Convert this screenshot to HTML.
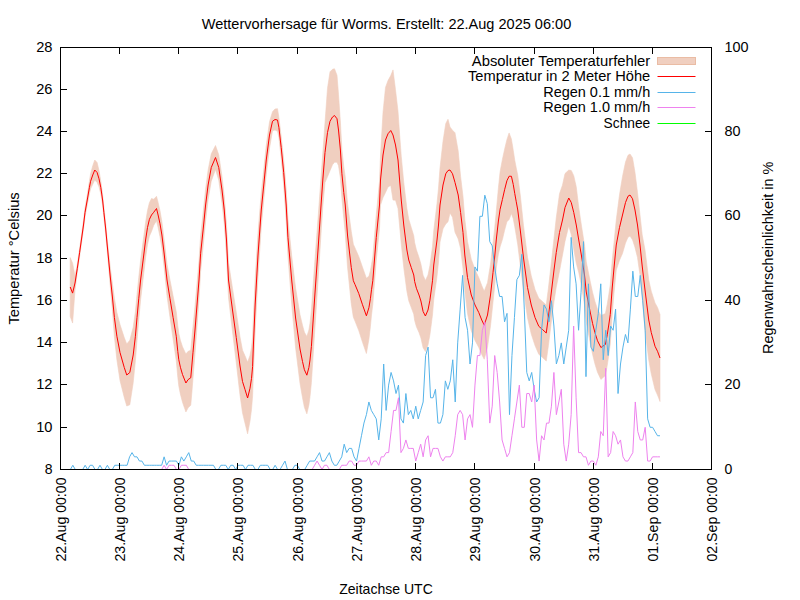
<!DOCTYPE html>
<html lang="de"><head><meta charset="utf-8"><title>Wettervorhersage für Worms</title>
<style>html,body{margin:0;padding:0;background:#fff;}body{width:800px;height:600px;overflow:hidden;font-family:"Liberation Sans",sans-serif;}svg{display:block;}text{font-family:"Liberation Sans",sans-serif;fill:#000;}</style></head><body>
<svg width="800" height="600" viewBox="0 0 800 600">
<rect x="0" y="0" width="800" height="600" fill="#ffffff"/>
<path d="M70.20 257.60L72.60 263.15L75.00 275.84L77.25 264.75L79.65 248.25L83.50 220.56L85.00 207.88L87.25 195.09L89.40 181.10L90.60 173.65L92.75 165.73L94.75 160.00L97.10 162.50L99.00 170.55L100.80 181.03L102.60 194.73L103.90 207.32L105.60 222.48L107.20 239.16L110.20 266.70L112.50 284.50L114.40 298.30L116.90 312.59L120.00 324.50L124.25 337.61L126.75 344.00L129.80 340.22L133.20 327.29L135.40 311.83L137.00 294.62L138.75 277.55L140.60 260.26L143.75 236.61L145.60 222.40L147.50 210.56L149.40 202.67L151.50 198.50L153.75 199.26L156.50 196.30L158.10 202.46L160.00 210.81L161.90 221.66L164.20 240.17L167.00 264.15L170.00 280.13L173.10 296.02L176.25 311.87L177.80 325.68L178.80 333.44L180.40 340.32L182.50 346.76L185.90 354.05L188.10 351.35L190.75 350.35L191.90 337.97L193.00 326.38L195.00 306.38L197.00 283.62L199.00 260.88L200.60 235.98L203.10 213.20L205.60 189.17L208.10 170.14L211.25 153.85L215.50 145.50L218.75 154.82L222.00 176.63L224.25 196.16L226.50 224.50L228.50 262.50L232.50 288.50L236.25 312.25L240.00 337.00L242.50 350.17L245.00 355.83L247.60 362.13L250.00 355.43L251.50 347.59L252.60 336.99L253.20 321.29L255.20 278.18L258.00 233.22L261.25 192.92L263.75 169.66L266.25 145.59L269.50 121.81L272.50 111.75L275.00 109.00L277.50 108.68L278.90 117.45L281.20 136.61L283.70 159.56L286.20 189.20L287.95 219.08L291.70 255.95L295.60 288.10L300.00 314.73L302.50 325.34L304.40 332.15L306.85 336.54L308.90 330.01L310.00 323.14L311.40 310.44L314.50 265.71L318.00 219.00L321.20 175.20L322.80 153.33L325.00 122.50L327.50 88.26L330.00 71.81L332.50 69.29L334.50 68.74L337.00 75.31L338.50 94.36L340.40 122.00L341.90 149.50L343.75 166.71L345.25 176.92L347.50 203.17L351.25 231.35L353.35 244.34L355.00 247.88L358.75 256.42L362.50 267.21L366.40 278.22L368.90 276.20L370.40 270.85L371.50 264.53L372.80 256.99L376.25 214.79L379.50 181.56L380.50 154.96L383.00 112.38L385.50 87.40L388.00 80.55L390.75 75.62L393.00 69.92L395.50 89.76L398.00 111.37L399.60 134.08L401.25 156.21L403.75 182.40L406.90 208.60L408.75 219.19L411.25 227.48L413.75 235.77L414.65 242.56L416.40 249.86L419.00 257.44L420.90 264.04L423.10 275.24L425.40 280.47L428.00 275.00L429.90 265.63L431.00 257.60L432.50 246.65L433.75 230.53L437.00 203.50L438.50 188.00L440.00 168.00L443.00 141.22L445.75 123.59L448.00 119.25L450.00 127.08L452.50 130.19L455.00 132.76L458.20 151.08L460.60 176.50L463.00 196.50L464.80 219.00L467.50 241.50L471.25 259.16L475.00 269.62L478.75 277.62L481.75 285.60L484.20 291.19L487.50 282.68L490.50 264.23L493.00 242.91L494.60 229.06L496.25 211.73L498.40 187.90L500.10 171.77L502.40 159.40L504.60 149.21L506.90 139.65L509.10 132.95L511.40 139.05L513.25 150.31L514.75 160.28L516.25 167.93L517.75 175.16L520.50 197.12L523.50 225.71L527.50 257.25L531.25 275.88L535.00 289.50L538.75 298.25L542.50 301.50L546.25 305.00L548.40 288.36L551.00 265.59L554.00 238.57L556.25 217.86L559.50 193.78L562.50 185.04L565.00 173.58L568.75 170.10L571.25 170.48L573.75 175.65L576.25 186.84L578.75 207.40L581.50 226.00L584.50 245.00L586.25 261.84L590.40 282.31L592.60 292.53L594.90 301.24L597.50 309.16L600.90 315.53L605.40 313.51L607.25 304.16L608.75 294.73L610.25 284.80L612.20 260.64L614.00 242.80L616.25 220.00L619.50 194.83L622.50 176.54L625.50 162.03L628.00 155.25L630.00 154.00L632.50 157.75L635.00 172.50L637.50 192.50L640.00 215.00L642.20 234.83L645.00 250.00L648.75 280.00L651.25 291.17L655.00 302.92L657.50 307.42L660.00 314.50L660.00 401.50L657.50 395.08L655.00 389.58L651.25 373.83L648.75 360.00L645.00 330.00L642.20 297.17L640.00 275.00L637.50 257.50L635.00 247.50L632.50 239.75L630.00 236.00L628.00 237.25L625.50 242.97L622.50 253.46L619.50 260.17L616.25 270.00L614.00 293.20L612.20 315.36L610.25 344.20L608.75 355.27L607.25 365.34L605.40 375.49L600.90 379.47L597.50 372.34L594.90 363.76L592.60 354.47L590.40 343.69L586.25 322.16L584.50 305.00L581.50 286.00L578.75 272.60L576.25 263.16L573.75 249.35L571.25 234.52L568.75 225.90L565.00 241.42L562.50 254.96L559.50 271.22L556.25 287.14L554.00 301.43L551.00 324.41L548.40 345.64L546.25 361.00L542.50 357.50L538.75 354.25L535.00 345.50L531.25 334.12L527.50 317.75L523.50 290.29L520.50 266.88L517.75 244.84L516.25 235.57L514.75 226.72L513.25 218.69L511.40 213.45L509.10 219.55L506.90 221.85L504.60 230.29L502.40 239.60L500.10 246.73L498.40 254.10L496.25 268.27L494.60 286.94L493.00 302.09L490.50 325.77L487.50 347.32L484.20 359.21L481.75 354.40L478.75 347.38L475.00 340.38L471.25 330.84L467.50 313.50L464.80 291.00L463.00 268.50L460.60 248.50L458.20 238.92L455.00 232.24L452.50 217.31L450.00 212.92L448.00 221.75L445.75 223.91L443.00 228.78L440.00 242.00L438.50 262.00L437.00 276.50L433.75 299.47L432.50 314.85L431.00 326.40L429.90 334.87L428.00 345.00L425.40 351.53L423.10 347.76L420.90 337.96L419.00 332.56L416.40 326.64L414.65 320.44L413.75 314.23L411.25 307.52L408.75 300.81L406.90 291.40L403.75 267.60L401.25 243.79L399.60 225.92L398.00 208.62L395.50 200.24L393.00 200.08L390.75 185.38L388.00 186.95L385.50 192.60L383.00 197.62L380.50 205.04L379.50 228.44L376.25 260.21L372.80 304.51L371.50 314.97L370.40 326.65L368.90 339.30L366.40 353.48L362.50 342.29L358.75 330.58L355.00 321.12L353.35 317.16L351.25 303.65L347.50 266.83L345.25 233.08L343.75 218.29L341.90 198.00L340.40 178.00L338.50 165.64L337.00 162.19L334.50 162.26L332.50 164.71L330.00 170.69L327.50 176.74L325.00 182.50L322.80 206.67L321.20 230.80L318.00 281.00L314.50 334.29L311.40 382.56L310.00 396.86L308.90 404.99L306.85 413.86L304.40 407.35L302.50 397.66L300.00 383.27L295.60 347.90L291.70 304.05L287.95 255.92L286.20 220.80L283.70 185.44L281.20 158.39L278.90 137.55L277.50 131.32L275.00 130.00L272.50 130.75L269.50 148.19L266.25 174.41L263.75 200.34L261.25 227.08L258.00 276.78L255.20 329.82L253.20 378.71L252.60 396.01L251.50 409.41L250.00 421.07L247.60 433.87L245.00 423.17L242.50 412.83L240.00 395.00L236.25 362.75L232.50 331.50L228.50 297.50L226.50 255.50L224.25 223.84L222.00 203.37L218.75 180.18L215.50 169.50L211.25 181.15L208.10 199.86L205.60 220.83L203.10 246.80L200.60 271.52L199.00 299.12L197.00 326.38L195.00 353.62L193.00 378.12L191.90 392.03L190.75 405.15L188.10 407.85L185.90 411.95L182.50 402.24L180.40 394.18L178.80 386.06L177.80 377.32L176.25 360.63L173.10 338.98L170.00 317.37L167.00 295.85L164.20 267.83L161.90 248.34L160.00 236.69L158.10 227.54L156.50 220.70L153.75 225.24L151.50 231.50L149.40 236.13L147.50 244.44L145.60 257.60L143.75 273.39L140.60 299.74L138.75 319.95L137.00 340.38L135.40 360.67L133.20 382.71L129.80 404.78L126.75 406.00L124.25 397.39L120.00 380.50L116.90 359.91L114.40 336.70L112.50 311.50L110.20 285.30L107.20 250.84L105.60 233.52L103.90 217.68L102.60 205.27L100.80 193.97L99.00 186.95L97.10 182.50L94.75 180.00L92.75 184.27L90.60 188.85L89.40 193.90L87.25 204.91L85.00 217.12L83.50 229.44L79.65 256.25L77.25 272.75L75.00 290.16L72.60 323.05L70.20 316.40Z" fill="#f0cfc0" stroke="#f0cfc0" stroke-width="0.6" stroke-linejoin="round"/>
<path d="M70.20 287.00L72.60 293.10L75.00 283.00L77.25 268.75L79.65 252.25L83.50 225.00L85.00 212.50L87.25 200.00L89.40 187.50L90.60 181.25L92.75 175.00L94.75 170.00L97.10 172.50L99.00 178.75L100.80 187.50L102.60 200.00L103.90 212.50L105.60 228.00L107.20 245.00L110.20 276.00L112.50 298.00L114.40 317.50L116.90 336.25L120.00 352.50L124.25 367.50L126.75 375.00L129.80 372.50L133.20 355.00L135.40 336.25L137.00 317.50L138.75 298.75L140.60 280.00L143.75 255.00L145.60 240.00L147.50 227.50L149.40 219.40L151.50 215.00L153.75 212.25L156.50 208.50L158.10 215.00L160.00 223.75L161.90 235.00L164.20 254.00L167.00 280.00L170.00 298.75L173.10 317.50L176.25 336.25L177.80 351.50L178.80 359.75L180.40 367.25L182.50 374.50L185.90 383.00L188.10 379.60L190.75 377.75L191.90 365.00L193.00 352.25L195.00 330.00L197.00 305.00L199.00 280.00L200.60 253.75L203.10 230.00L205.60 205.00L208.10 185.00L211.25 167.50L215.50 157.50L218.75 167.50L222.00 190.00L224.25 210.00L226.50 240.00L228.50 280.00L232.50 310.00L236.25 337.50L240.00 366.00L242.50 381.50L245.00 389.50L247.60 398.00L250.00 388.25L251.50 378.50L252.60 366.50L253.20 350.00L255.20 304.00L258.00 255.00L261.25 210.00L263.75 185.00L266.25 160.00L269.50 135.00L272.50 121.25L275.00 119.50L277.50 120.00L278.90 127.50L281.20 147.50L283.70 172.50L286.20 205.00L287.95 237.50L291.70 280.00L295.60 318.00L300.00 349.00L302.50 361.50L304.40 369.75L306.85 375.20L308.90 367.50L310.00 360.00L311.40 346.50L314.50 300.00L318.00 250.00L321.20 203.00L322.80 180.00L325.00 152.50L327.50 132.50L330.00 121.25L332.50 117.00L334.50 115.50L337.00 118.75L338.50 130.00L340.40 150.00L341.90 173.75L343.75 192.50L345.25 205.00L347.50 235.00L351.25 267.50L353.35 280.75L355.00 284.50L358.75 293.50L362.50 304.75L366.40 315.85L368.90 307.75L370.40 298.75L371.50 289.75L372.80 280.75L376.25 237.50L379.50 205.00L380.50 180.00L383.00 155.00L385.50 140.00L388.00 133.75L390.75 130.50L393.00 135.00L395.50 145.00L398.00 160.00L399.60 180.00L401.25 200.00L403.75 225.00L406.90 250.00L408.75 260.00L411.25 267.50L413.75 275.00L414.65 281.50L416.40 288.25L419.00 295.00L420.90 301.00L423.10 311.50L425.40 316.00L428.00 310.00L429.90 300.25L431.00 292.00L432.50 280.75L433.75 265.00L437.00 240.00L438.50 225.00L440.00 205.00L443.00 185.00L445.75 173.75L448.00 170.50L450.00 170.00L452.50 173.75L455.00 182.50L458.20 195.00L460.60 212.50L463.00 232.50L464.80 255.00L467.50 277.50L471.25 295.00L475.00 305.00L478.75 312.50L481.75 320.00L484.20 325.20L487.50 315.00L490.50 295.00L493.00 272.50L494.60 258.00L496.25 240.00L498.40 221.00L500.10 209.25L502.40 199.50L504.60 189.75L506.90 180.75L509.10 176.25L511.40 176.25L513.25 184.50L514.75 193.50L516.25 201.75L517.75 210.00L520.50 232.00L523.50 258.00L527.50 287.50L531.25 305.00L535.00 317.50L538.75 326.25L542.50 329.50L546.25 333.00L548.40 317.00L551.00 295.00L554.00 270.00L556.25 252.50L559.50 232.50L562.50 220.00L565.00 207.50L568.75 198.00L571.25 202.50L573.75 212.50L576.25 225.00L578.75 240.00L581.50 256.00L584.50 275.00L586.25 292.00L590.40 313.00L592.60 323.50L594.90 332.50L597.50 340.75L600.90 347.50L605.40 344.50L607.25 334.75L608.75 325.00L610.25 314.50L612.20 288.00L614.00 268.00L616.25 245.00L619.50 227.50L622.50 215.00L625.50 202.50L628.00 196.25L630.00 195.00L632.50 198.75L635.00 210.00L637.50 225.00L640.00 245.00L642.20 266.00L645.00 290.00L648.75 320.00L651.25 332.50L655.00 346.25L657.50 351.25L660.00 358.00" fill="none" stroke="#ff0000" stroke-width="1" stroke-linejoin="miter" stroke-miterlimit="4"/>
<path d="M70.37 469.50L72.84 465.28L75.30 469.50L77.77 469.50L80.24 469.50L82.70 469.50L85.17 465.28L87.64 469.50L90.10 465.28L92.57 465.28L95.04 469.50L97.50 469.50L99.97 465.28L102.44 469.50L104.91 469.50L107.37 465.28L109.84 469.50L112.31 469.50L114.77 465.28L117.24 465.28L119.71 465.28L122.18 465.28L124.64 465.28L127.11 465.28L129.58 456.84L132.04 452.62L134.51 456.84L136.98 456.84L139.44 461.06L141.91 461.06L144.38 465.28L146.84 465.28L149.31 465.28L151.78 465.28L154.25 465.28L156.71 465.28L159.18 465.28L161.65 465.28L164.11 456.84L166.58 465.28L169.05 461.06L171.51 461.06L173.98 461.06L176.45 461.06L178.92 465.28L181.38 456.84L183.85 461.06L186.32 456.84L188.78 452.62L191.25 461.06L193.72 461.06L196.19 465.28L198.65 465.28L201.12 465.28L203.59 465.28L206.05 465.28L208.52 465.28L210.99 465.28L213.45 465.28L215.92 469.50L218.39 469.50L220.86 465.28L223.32 465.28L225.79 465.28L228.26 469.50L230.72 465.28L233.19 465.28L235.66 469.50L238.12 465.28L240.59 465.28L243.06 465.28L245.53 469.50L247.99 465.28L250.46 465.28L252.93 465.28L255.39 469.50L257.86 469.50L260.33 465.28L262.79 465.28L265.26 465.28L267.73 465.28L270.19 469.50L272.66 469.50L275.13 465.28L277.60 469.50L280.06 469.50L282.53 465.28L285.00 461.06L287.46 469.50L289.93 469.50L292.40 469.50L294.87 465.28L297.33 465.28L299.80 469.50L302.27 469.50L304.73 469.50L307.20 465.28L309.67 461.06L312.13 461.06L314.60 461.06L317.07 456.84L319.54 452.62L322.00 461.06L324.47 461.06L326.94 456.84L329.40 452.62L331.87 461.06L334.34 465.28L336.80 465.28L339.27 461.06L341.74 456.84L344.20 444.18L346.67 452.62L349.14 448.40L351.61 448.40L354.07 456.84L356.54 461.06L359.01 448.40L361.47 435.74L363.94 423.08L366.41 414.64L368.88 401.98L371.34 410.42L373.81 414.64L376.28 418.86L378.74 439.96L381.21 418.86L383.68 364.00L386.14 410.42L388.61 385.10L391.08 372.44L393.55 380.88L396.01 393.54L398.48 385.10L400.95 418.86L403.41 423.08L405.88 393.54L408.35 414.64L410.81 410.42L413.28 418.86L415.75 406.20L418.22 418.86L420.68 410.42L423.15 401.98L425.62 355.56L428.08 347.12L430.55 397.76L433.02 397.76L435.48 389.32L437.95 423.08L440.42 423.08L442.88 414.64L445.35 380.88L447.82 389.32L450.29 380.88L452.75 359.78L455.22 401.98L457.69 342.90L460.15 309.14L462.62 275.38L465.09 317.58L467.56 330.24L470.02 364.00L472.49 342.90L474.96 266.94L477.42 271.16L479.89 216.30L482.36 216.30L484.82 195.20L487.29 203.64L489.76 241.62L492.23 245.84L494.69 266.94L497.16 283.82L499.63 296.48L502.09 296.48L504.56 321.80L507.03 313.36L509.49 414.64L511.96 355.56L514.43 317.58L516.89 279.60L519.36 275.38L521.83 254.28L524.30 309.14L526.76 372.44L529.23 380.88L531.70 372.44L534.16 389.32L536.63 401.98L539.10 397.76L541.57 330.24L544.03 304.92L546.50 309.14L548.97 321.80L551.43 300.70L553.90 326.02L556.37 364.00L558.83 355.56L561.30 342.90L563.77 364.00L566.24 347.12L568.70 330.24L571.17 237.40L573.64 266.94L576.10 283.82L578.57 330.24L581.04 292.26L583.50 241.62L585.97 376.66L588.44 283.82L590.90 347.12L593.37 351.34L595.84 330.24L598.31 313.36L600.77 283.82L603.24 359.78L605.71 330.24L608.17 355.56L610.64 326.02L613.11 330.24L615.58 309.14L618.04 393.54L620.51 364.00L622.98 347.12L625.44 334.46L627.91 342.90L630.38 309.14L632.84 271.16L635.31 296.48L637.78 296.48L640.25 275.38L642.71 300.70L645.18 330.24L647.65 418.86L650.11 427.30L652.58 427.30L655.05 431.52L657.51 435.74L659.98 435.74" fill="none" stroke="#56b4e9" stroke-width="1" stroke-linejoin="miter" stroke-miterlimit="4"/>
<path d="M70.37 469.50L72.84 469.50L75.30 469.50L77.77 469.50L80.24 469.50L82.70 469.50L85.17 469.50L87.64 469.50L90.10 469.50L92.57 469.50L95.04 469.50L97.50 469.50L99.97 469.50L102.44 469.50L104.91 469.50L107.37 469.50L109.84 469.50L112.31 469.50L114.77 469.50L117.24 469.50L119.71 469.50L122.18 469.50L124.64 469.50L127.11 469.50L129.58 469.50L132.04 469.50L134.51 469.50L136.98 469.50L139.44 469.50L141.91 469.50L144.38 469.50L146.84 469.50L149.31 469.50L151.78 469.50L154.25 469.50L156.71 469.50L159.18 469.50L161.65 469.50L164.11 465.28L166.58 469.50L169.05 465.28L171.51 465.28L173.98 465.28L176.45 469.50L178.92 469.50L181.38 465.28L183.85 465.28L186.32 465.28L188.78 469.50L191.25 469.50L193.72 469.50L196.19 469.50L198.65 469.50L201.12 469.50L203.59 469.50L206.05 469.50L208.52 469.50L210.99 469.50L213.45 469.50L215.92 469.50L218.39 469.50L220.86 469.50L223.32 469.50L225.79 469.50L228.26 469.50L230.72 469.50L233.19 469.50L235.66 469.50L238.12 469.50L240.59 469.50L243.06 469.50L245.53 469.50L247.99 469.50L250.46 469.50L252.93 469.50L255.39 469.50L257.86 469.50L260.33 469.50L262.79 469.50L265.26 469.50L267.73 469.50L270.19 469.50L272.66 469.50L275.13 469.50L277.60 469.50L280.06 469.50L282.53 469.50L285.00 469.50L287.46 469.50L289.93 469.50L292.40 469.50L294.87 469.50L297.33 469.50L299.80 469.50L302.27 469.50L304.73 469.50L307.20 469.50L309.67 469.50L312.13 469.50L314.60 465.28L317.07 461.06L319.54 465.28L322.00 469.50L324.47 465.28L326.94 465.28L329.40 469.50L331.87 469.50L334.34 469.50L336.80 469.50L339.27 469.50L341.74 465.28L344.20 465.28L346.67 465.28L349.14 461.06L351.61 461.06L354.07 465.28L356.54 465.28L359.01 461.06L361.47 461.06L363.94 461.06L366.41 461.06L368.88 456.84L371.34 465.28L373.81 461.06L376.28 461.06L378.74 465.28L381.21 456.84L383.68 456.84L386.14 452.62L388.61 452.62L391.08 431.52L393.55 410.42L396.01 410.42L398.48 397.76L400.95 452.62L403.41 448.40L405.88 439.96L408.35 448.40L410.81 448.40L413.28 448.40L415.75 461.06L418.22 452.62L420.68 444.18L423.15 456.84L425.62 439.96L428.08 435.74L430.55 456.84L433.02 448.40L435.48 448.40L437.95 448.40L440.42 456.84L442.88 461.06L445.35 456.84L447.82 456.84L450.29 456.84L452.75 452.62L455.22 435.74L457.69 414.64L460.15 410.42L462.62 414.64L465.09 439.96L467.56 418.86L470.02 414.64L472.49 427.30L474.96 385.10L477.42 355.56L479.89 355.56L482.36 330.24L484.82 321.80L487.29 359.78L489.76 423.08L492.23 406.20L494.69 355.56L497.16 372.44L499.63 401.98L502.09 439.96L504.56 448.40L507.03 456.84L509.49 452.62L511.96 435.74L514.43 418.86L516.89 401.98L519.36 385.10L521.83 427.30L524.30 427.30L526.76 393.54L529.23 393.54L531.70 401.98L534.16 385.10L536.63 439.96L539.10 461.06L541.57 435.74L544.03 439.96L546.50 423.08L548.97 423.08L551.43 406.20L553.90 372.44L556.37 414.64L558.83 401.98L561.30 389.32L563.77 444.18L566.24 461.06L568.70 444.18L571.17 414.64L573.64 326.02L576.10 397.76L578.57 452.62L581.04 452.62L583.50 456.84L585.97 456.84L588.44 465.28L590.90 461.06L593.37 461.06L595.84 465.28L598.31 456.84L600.77 431.52L603.24 435.74L605.71 368.22L608.17 456.84L610.64 452.62L613.11 431.52L615.58 435.74L618.04 444.18L620.51 439.96L622.98 456.84L625.44 461.06L627.91 461.06L630.38 456.84L632.84 452.62L635.31 401.98L637.78 431.52L640.25 439.96L642.71 439.96L645.18 427.30L647.65 461.06L650.11 461.06L652.58 456.84L655.05 456.84L657.51 456.84L659.98 456.84" fill="none" stroke="#ee82ee" stroke-width="1" stroke-linejoin="miter" stroke-miterlimit="4"/>
<g stroke="#000" stroke-width="1" fill="none" shape-rendering="crispEdges">
<rect x="60.5" y="47.5" width="651.0" height="422.0"/>
<path d="M60.5 469.5V463.0M60.5 47.5V54.0"/>
<path d="M119.5 469.5V463.0M119.5 47.5V54.0"/>
<path d="M178.5 469.5V463.0M178.5 47.5V54.0"/>
<path d="M237.5 469.5V463.0M237.5 47.5V54.0"/>
<path d="M297.5 469.5V463.0M297.5 47.5V54.0"/>
<path d="M356.5 469.5V463.0M356.5 47.5V54.0"/>
<path d="M415.5 469.5V463.0M415.5 47.5V54.0"/>
<path d="M474.5 469.5V463.0M474.5 47.5V54.0"/>
<path d="M534.5 469.5V463.0M534.5 47.5V54.0"/>
<path d="M593.5 469.5V463.0M593.5 47.5V54.0"/>
<path d="M652.5 469.5V463.0M652.5 47.5V54.0"/>
<path d="M711.5 469.5V463.0M711.5 47.5V54.0"/>
<path d="M60.5 469.5H67.0"/>
<path d="M60.5 427.5H67.0"/>
<path d="M60.5 384.5H67.0"/>
<path d="M60.5 342.5H67.0"/>
<path d="M60.5 300.5H67.0"/>
<path d="M60.5 258.5H67.0"/>
<path d="M60.5 215.5H67.0"/>
<path d="M60.5 173.5H67.0"/>
<path d="M60.5 131.5H67.0"/>
<path d="M60.5 89.5H67.0"/>
<path d="M60.5 47.5H67.0"/>
<path d="M711.5 469.5H705.0"/>
<path d="M711.5 384.5H705.0"/>
<path d="M711.5 300.5H705.0"/>
<path d="M711.5 215.5H705.0"/>
<path d="M711.5 131.5H705.0"/>
<path d="M711.5 47.5H705.0"/>
</g>
<g>
<text x="386.5" y="29" text-anchor="middle" font-size="14.2" textLength="369.5" lengthAdjust="spacingAndGlyphs">Wettervorhersage für Worms. Erstellt: 22.Aug 2025 06:00</text>
<text x="386" y="593.5" text-anchor="middle" font-size="14.2" textLength="93.6" lengthAdjust="spacingAndGlyphs">Zeitachse UTC</text>
<text x="52.5" y="474.1" text-anchor="end" font-size="14.2" textLength="7.8" lengthAdjust="spacingAndGlyphs">8</text>
<text x="52.5" y="432.1" text-anchor="end" font-size="14.2" textLength="16.3" lengthAdjust="spacingAndGlyphs">10</text>
<text x="52.5" y="389.1" text-anchor="end" font-size="14.2" textLength="16.3" lengthAdjust="spacingAndGlyphs">12</text>
<text x="52.5" y="347.1" text-anchor="end" font-size="14.2" textLength="16.3" lengthAdjust="spacingAndGlyphs">14</text>
<text x="52.5" y="305.1" text-anchor="end" font-size="14.2" textLength="16.3" lengthAdjust="spacingAndGlyphs">16</text>
<text x="52.5" y="263.1" text-anchor="end" font-size="14.2" textLength="16.3" lengthAdjust="spacingAndGlyphs">18</text>
<text x="52.5" y="220.1" text-anchor="end" font-size="14.2" textLength="16.3" lengthAdjust="spacingAndGlyphs">20</text>
<text x="52.5" y="178.1" text-anchor="end" font-size="14.2" textLength="16.3" lengthAdjust="spacingAndGlyphs">22</text>
<text x="52.5" y="136.1" text-anchor="end" font-size="14.2" textLength="16.3" lengthAdjust="spacingAndGlyphs">24</text>
<text x="52.5" y="94.1" text-anchor="end" font-size="14.2" textLength="16.3" lengthAdjust="spacingAndGlyphs">26</text>
<text x="52.5" y="52.1" text-anchor="end" font-size="14.2" textLength="16.3" lengthAdjust="spacingAndGlyphs">28</text>
<text x="724.4" y="474.1" text-anchor="start" font-size="14.2" textLength="7.8" lengthAdjust="spacingAndGlyphs">0</text>
<text x="724.4" y="389.1" text-anchor="start" font-size="14.2" textLength="16.0" lengthAdjust="spacingAndGlyphs">20</text>
<text x="724.4" y="305.1" text-anchor="start" font-size="14.2" textLength="16.0" lengthAdjust="spacingAndGlyphs">40</text>
<text x="724.4" y="220.1" text-anchor="start" font-size="14.2" textLength="16.0" lengthAdjust="spacingAndGlyphs">60</text>
<text x="724.4" y="136.1" text-anchor="start" font-size="14.2" textLength="16.0" lengthAdjust="spacingAndGlyphs">80</text>
<text x="724.4" y="52.1" text-anchor="start" font-size="14.2" textLength="24.0" lengthAdjust="spacingAndGlyphs">100</text>
<text x="65.5" y="561.5" text-anchor="start" font-size="14.2" textLength="84" lengthAdjust="spacingAndGlyphs" transform="rotate(-90 65.5 561.5)">22.Aug 00:00</text>
<text x="124.5" y="561.5" text-anchor="start" font-size="14.2" textLength="84" lengthAdjust="spacingAndGlyphs" transform="rotate(-90 124.5 561.5)">23.Aug 00:00</text>
<text x="183.5" y="561.5" text-anchor="start" font-size="14.2" textLength="84" lengthAdjust="spacingAndGlyphs" transform="rotate(-90 183.5 561.5)">24.Aug 00:00</text>
<text x="242.5" y="561.5" text-anchor="start" font-size="14.2" textLength="84" lengthAdjust="spacingAndGlyphs" transform="rotate(-90 242.5 561.5)">25.Aug 00:00</text>
<text x="302.5" y="561.5" text-anchor="start" font-size="14.2" textLength="84" lengthAdjust="spacingAndGlyphs" transform="rotate(-90 302.5 561.5)">26.Aug 00:00</text>
<text x="361.5" y="561.5" text-anchor="start" font-size="14.2" textLength="84" lengthAdjust="spacingAndGlyphs" transform="rotate(-90 361.5 561.5)">27.Aug 00:00</text>
<text x="420.5" y="561.5" text-anchor="start" font-size="14.2" textLength="84" lengthAdjust="spacingAndGlyphs" transform="rotate(-90 420.5 561.5)">28.Aug 00:00</text>
<text x="479.5" y="561.5" text-anchor="start" font-size="14.2" textLength="84" lengthAdjust="spacingAndGlyphs" transform="rotate(-90 479.5 561.5)">29.Aug 00:00</text>
<text x="539.5" y="561.5" text-anchor="start" font-size="14.2" textLength="84" lengthAdjust="spacingAndGlyphs" transform="rotate(-90 539.5 561.5)">30.Aug 00:00</text>
<text x="598.5" y="561.5" text-anchor="start" font-size="14.2" textLength="84" lengthAdjust="spacingAndGlyphs" transform="rotate(-90 598.5 561.5)">31.Aug 00:00</text>
<text x="657.5" y="561.5" text-anchor="start" font-size="14.2" textLength="84" lengthAdjust="spacingAndGlyphs" transform="rotate(-90 657.5 561.5)">01.Sep 00:00</text>
<text x="716.5" y="561.5" text-anchor="start" font-size="14.2" textLength="84" lengthAdjust="spacingAndGlyphs" transform="rotate(-90 716.5 561.5)">02.Sep 00:00</text>
<text x="19.1" y="324.6" text-anchor="start" font-size="14.2" textLength="132.3" lengthAdjust="spacingAndGlyphs" transform="rotate(-90 19.1 324.6)">Temperatur °Celsius</text>
<text x="773.0" y="354.0" text-anchor="start" font-size="14.2" textLength="192.5" lengthAdjust="spacingAndGlyphs" transform="rotate(-90 773.0 354.0)">Regenwahrscheinlichkeit in %</text>
<text x="650.2" y="65.8" text-anchor="end" font-size="14.2" textLength="178.4" lengthAdjust="spacingAndGlyphs">Absoluter Temperaturfehler</text>
<text x="650.2" y="81.35" text-anchor="end" font-size="14.2" textLength="182.2" lengthAdjust="spacingAndGlyphs">Temperatur in 2 Meter Höhe</text>
<text x="650.2" y="96.9" text-anchor="end" font-size="14.2" textLength="107" lengthAdjust="spacingAndGlyphs">Regen 0.1 mm/h</text>
<text x="650.2" y="112.45" text-anchor="end" font-size="14.2" textLength="107" lengthAdjust="spacingAndGlyphs">Regen 1.0 mm/h</text>
<text x="650.2" y="128.0" text-anchor="end" font-size="14.2" textLength="46.6" lengthAdjust="spacingAndGlyphs">Schnee</text>
</g>
<rect x="657.5" y="57.5" width="38" height="7" fill="#f0cfc0" stroke="#eabca4" stroke-width="1"/>
<path d="M657.5 76.50H695.5" stroke="#ff0000" stroke-width="1" fill="none"/>
<path d="M657.5 92.50H695.5" stroke="#56b4e9" stroke-width="1" fill="none"/>
<path d="M657.5 107.50H695.5" stroke="#ee82ee" stroke-width="1" fill="none"/>
<path d="M657.5 123.50H695.5" stroke="#00ff00" stroke-width="1" fill="none"/>
</svg></body></html>
